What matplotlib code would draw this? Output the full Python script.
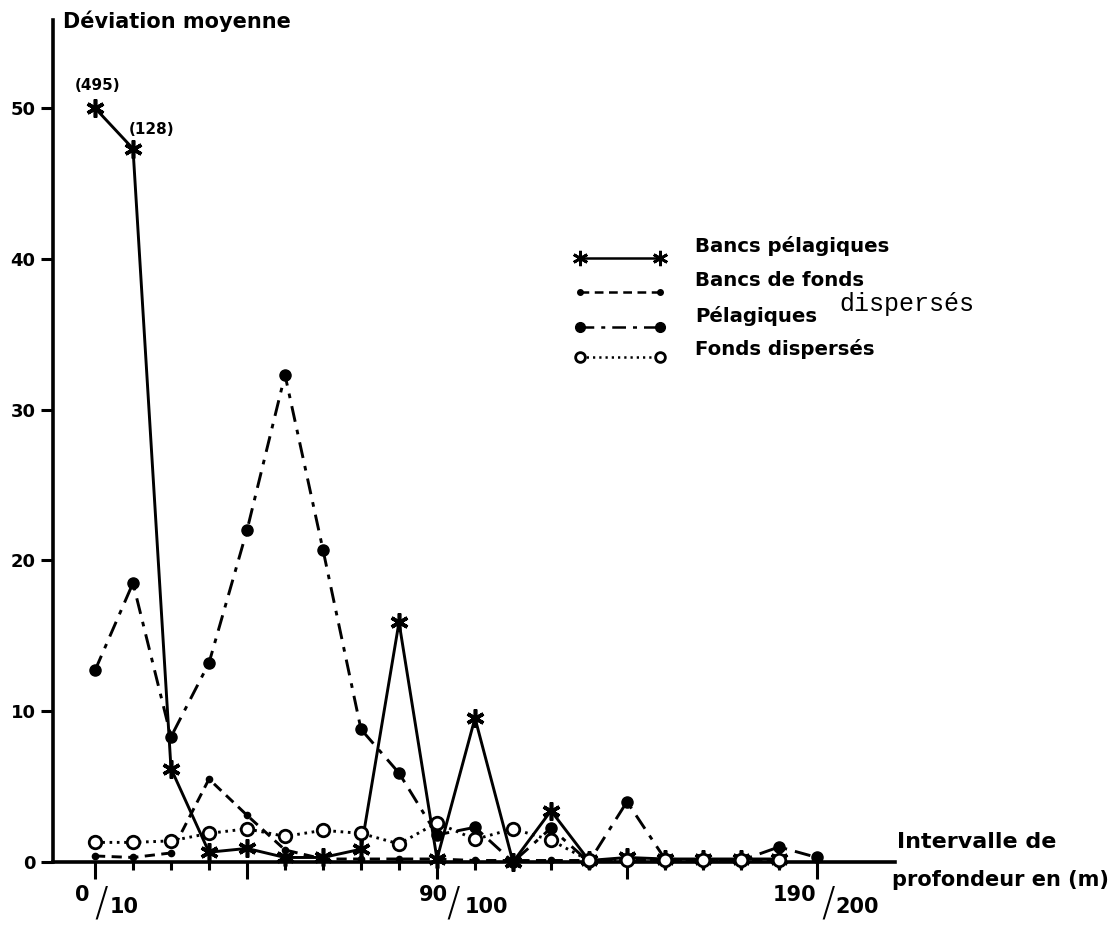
import numpy as np
import matplotlib
matplotlib.use("Agg")
import matplotlib.pyplot as plt
from matplotlib.lines import Line2D

# Depth intervals (10 m classes, 0/10 ... 190/200)
intervals = list(range(20))
tick_labels = {0: ("0", "10"), 9: ("90", "100"), 19: ("190", "200")}

nan = np.nan
bancs_pelagiques = [50.0, 47.3, 6.2, 0.65, 0.9, 0.3, 0.3, 0.85, 15.9, 0.2,
                    9.55, 0.0, 3.4, 0.1, 0.3, 0.2, 0.2, 0.2, 0.2, nan]
bancs_de_fonds = [0.4, 0.3, 0.6, 5.5, 3.1, 0.8, 0.2, 0.2, 0.2, 0.2,
                  0.1, 0.1, 0.1, 0.1, 0.1, 0.1, 0.1, 0.1, 0.1, nan]
pelagiques_disperses = [12.7, 18.5, 8.3, 13.2, 22.0, 32.3, 20.7, 8.8, 5.9, 1.8,
                        2.3, 0.0, 2.25, 0.0, 4.0, 0.2, 0.1, 0.1, 1.0, 0.3]
fonds_disperses = [1.3, 1.3, 1.4, 1.9, 2.2, 1.7, 2.1, 1.9, 1.2, 2.6,
                   1.5, 2.2, 1.45, 0.1, 0.1, 0.1, 0.1, 0.1, 0.1, nan]

counts = {0: "(495)", 1: "(128)"}

W, H = 1119, 925
fig = plt.figure(figsize=(W / 100, H / 100), dpi=100)
fig.patch.set_facecolor("white")

def fx(px):
    return px / W

def fy(py):
    return 1 - py / H

ax = fig.add_axes([fx(53), fy(862), fx(895) - fx(53), (862 - 20) / H])
ax.set_xlim((53 - 95) / 38, (895 - 95) / 38)
ax.set_ylim(0, (862 - 20) / 15.08)

BOLD = "DejaVu Sans"
STAR = (6, 2, 0)

lw = 2.1
ax.plot(intervals, bancs_pelagiques, color="black", lw=lw, ls="-",
        marker=STAR, ms=13, mew=2.6, clip_on=False, zorder=4)
ax.plot(intervals, bancs_de_fonds, color="black", lw=lw, ls=(0, (3.5, 2.2)),
        marker="o", ms=4.5, clip_on=False, zorder=3)
ax.plot(intervals, pelagiques_disperses, color="black", lw=lw,
        ls=(0, (5.5, 2.8, 1.6, 2.8)),
        marker="o", ms=8, clip_on=False, zorder=3)
ax.plot(intervals, fonds_disperses, color="black", lw=lw, ls=(0, (0.9, 1.6)),
        marker="o", ms=9, mfc="white", mew=2, clip_on=False, zorder=5)

# sample counts above the first points
ax.annotate(counts[0], xy=(0, bancs_pelagiques[0]), xytext=(2, 16),
            textcoords="offset points", ha="center", va="center",
            fontsize=11, fontweight="bold", family=BOLD)
ax.annotate(counts[1], xy=(1, bancs_pelagiques[1]), xytext=(-3, 14),
            textcoords="offset points", ha="left", va="center",
            fontsize=11, fontweight="bold", family=BOLD)

# axes styling
for s in ("top", "right"):
    ax.spines[s].set_visible(False)
ax.spines["left"].set_linewidth(2.6)
ax.spines["bottom"].set_linewidth(2.6)
ax.set_yticks([0, 10, 20, 30, 40, 50])
ax.set_yticklabels(["0", "10", "20", "30", "40", "50"])
ax.tick_params(axis="y", direction="out", length=9, width=2.2, pad=3.5,
               labelsize=13)
for t in ax.get_yticklabels():
    t.set_fontweight("bold")
    t.set_family("DejaVu Sans")

ax.set_xticks(intervals)
ax.set_xticklabels([])
ax.tick_params(axis="x", direction="out", length=6, width=2.2)
long_ticks = [0, 4, 9, 14, 19]
for i, tk in enumerate(ax.xaxis.get_major_ticks()):
    if i in long_ticks:
        tk.tick1line.set_markersize(12)

# fraction-style interval labels
offsets = {0: (-5, 6, 15), 9: (11, 16, 28), 19: (-1, 11, 18)}
for i, (num, den) in tick_labels.items():
    a, b, c = offsets[i]
    ax.annotate(num, xy=(i, 0), xytext=(a * 0.72, -33 * 0.72),
                textcoords="offset points", ha="right", va="center",
                fontsize=15, fontweight="bold", family="DejaVu Sans",
                annotation_clip=False)
    ax.annotate("/", xy=(i, 0), xytext=(b * 0.72, -42 * 0.72),
                textcoords="offset points", ha="center", va="center",
                fontsize=29, fontweight="light", family="DejaVu Sans",
                annotation_clip=False)
    ax.annotate(den, xy=(i, 0), xytext=(c * 0.72, -45 * 0.72),
                textcoords="offset points", ha="left", va="center",
                fontsize=15, fontweight="bold", family="DejaVu Sans",
                annotation_clip=False)

# axis titles
fig.text(fx(63), fy(21), "Déviation moyenne", ha="left", va="center",
         fontsize=15, fontweight="bold", family=BOLD)
fig.text(fx(897), fy(842), "Intervalle de", ha="left", va="center",
         fontsize=16, fontweight="bold", family=BOLD)
fig.text(fx(892), fy(880), "profondeur en (m)", ha="left", va="center",
         fontsize=15, fontweight="bold", family=BOLD)

# legend
legend_rows = [
    ("Bancs pélagiques", 258, 246, dict(ls="-", marker=STAR, ms=11, mew=2)),
    ("Bancs de fonds", 292, 280, dict(ls=(0, (3.5, 2.2)), marker="o", ms=4)),
    ("Pélagiques", 327, 316, dict(ls=(0, (5.5, 2.8, 1.6, 2.8)), marker="o", ms=7)),
    ("Fonds dispersés", 357, 349, dict(ls=(0, (0.9, 1.6)), marker="o", ms=7,
                                       mfc="white", mew=2)),
]
for label, ly, ty, style in legend_rows:
    fig.add_artist(Line2D([fx(580), fx(660)], [fy(ly), fy(ly)],
                          transform=fig.transFigure, color="black", lw=1.8,
                          **style))
    fig.text(fx(695), fy(ty), label, ha="left", va="center",
             fontsize=14.2, fontweight="bold", family=BOLD)
fig.text(fx(839), fy(304), "dispersés", ha="left", va="center",
         fontsize=18, family=["Liberation Mono", "DejaVu Sans Mono"])

fig.savefig("out.png", dpi=100, facecolor="white")
